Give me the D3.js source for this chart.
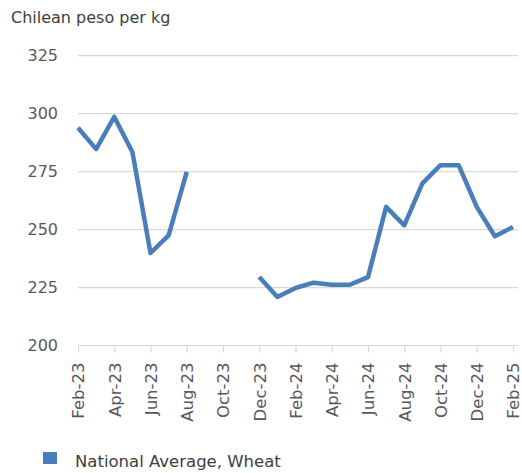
<!DOCTYPE html>
<html>
<head>
<meta charset="utf-8">
<script src="https://cdn.jsdelivr.net/npm/d3@7"></script>
<style>
  html, body { margin: 0; padding: 0; background: #fff; }
  svg { display: block; }
  text { font-family: "DejaVu Sans", sans-serif; fill: #404040; }
</style>
</head>
<body>
<svg id="chart" width="522" height="473"></svg>
<script>
const months = ["Feb-23","Mar-23","Apr-23","May-23","Jun-23","Jul-23","Aug-23","Sep-23","Oct-23","Nov-23","Dec-23","Jan-24","Feb-24","Mar-24","Apr-24","May-24","Jun-24","Jul-24","Aug-24","Sep-24","Oct-24","Nov-24","Dec-24","Jan-25","Feb-25"];
const wheat = [293.9,284.7,298.6,283.5,239.9,247.5,274.9,null,null,null,229.5,220.9,224.8,227.1,226.2,226.2,229.5,259.8,251.8,269.9,277.8,277.8,259.8,247.1,251.1];
const tickLabels = ["Feb-23","Apr-23","Jun-23","Aug-23","Oct-23","Dec-23","Feb-24","Apr-24","Jun-24","Aug-24","Oct-24","Dec-24","Feb-25"];
const yTicks = [200,225,250,275,300,325];
const unitLabel = "Chilean peso per kg";
const seriesName = "National Average, Wheat";

const svg = d3.select("#chart");
const x = d3.scalePoint().domain(months).range([78, 513]);
const y = d3.scaleLinear().domain([200, 325]).range([345.5, 55.7]);
const lineColor = "#4a7ebb";

// gridlines
svg.append("g").selectAll("line").data(yTicks.filter(d => d > 200)).join("line")
  .attr("x1", 78).attr("x2", 518)
  .attr("y1", d => y(d)).attr("y2", d => y(d))
  .attr("stroke", "#d9d9d9").attr("stroke-width", 1.2);

// y labels
svg.append("g").selectAll("text").data(yTicks).join("text")
  .attr("x", 58).attr("y", d => y(d)).attr("dy", "0.36em")
  .attr("text-anchor", "end").attr("font-size", 16).style("fill", "#595959")
  .text(d => d);

// x axis
const xAxis = d3.axisBottom(x).tickValues(tickLabels).tickSize(7).tickSizeOuter(0).tickFormat(d => d);
const gx = svg.append("g").attr("transform", `translate(0,${y(200)})`).call(xAxis);
gx.select(".domain").attr("stroke", "#d9d9d9").attr("stroke-width", 1.2).attr("d", `M78,0H518`);
gx.selectAll(".tick line").attr("stroke", "#d9d9d9").attr("stroke-width", 1.2);
gx.selectAll(".tick text")
  .attr("font-size", 16.5).style("fill", "#595959")
  .attr("font-family", "\"DejaVu Sans\", sans-serif")
  .attr("text-anchor", "end")
  .attr("transform", "rotate(-90)")
  .attr("x", -17).attr("y", 0).attr("dy", "0.36em");

// line
const line = d3.line().defined(d => d.v != null).x(d => x(d.m)).y(d => y(d.v));
svg.append("path")
  .datum(months.map((m, i) => ({ m, v: wheat[i] })))
  .attr("d", line).attr("fill", "none")
  .attr("stroke", lineColor).attr("stroke-width", 4.5)
  .attr("stroke-linejoin", "round").attr("stroke-linecap", "butt");

// title
svg.append("text").attr("x", 11).attr("y", 23).attr("font-size", 16).style("fill", "#404040").text(unitLabel);

// legend
svg.append("rect").attr("x", 43).attr("y", 452).attr("width", 14).attr("height", 12).attr("fill", lineColor);
svg.append("text").attr("x", 75).attr("y", 467).attr("font-size", 16.5).style("fill", "#404040").text(seriesName);
</script>
</body>
</html>
